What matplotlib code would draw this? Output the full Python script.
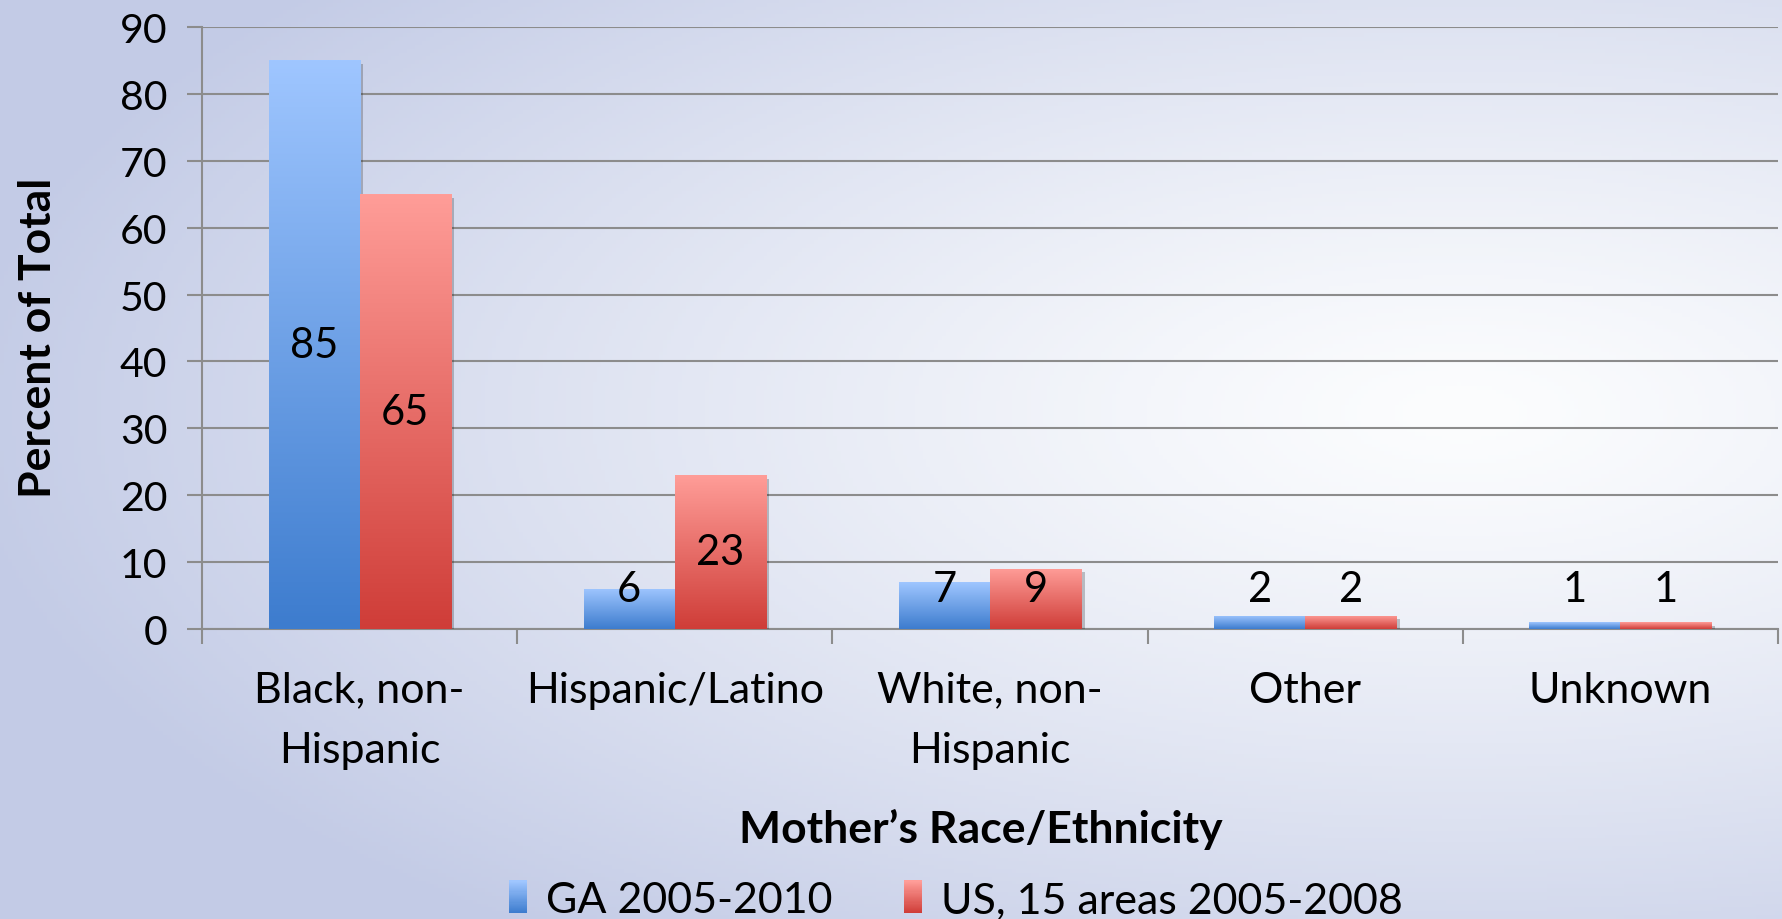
import numpy as np
import matplotlib
matplotlib.use("Agg")
import matplotlib.pyplot as plt
from matplotlib.colors import LinearSegmentedColormap, to_rgb
from matplotlib.patches import Rectangle
from matplotlib.legend_handler import HandlerBase
from matplotlib.ticker import FixedLocator
import matplotlib.patheffects as pe

# ---- data ----
categories = ["Black, non-\nHispanic", "Hispanic/Latino", "White, non-\nHispanic", "Other", "Unknown"]
ga_values = [85, 6, 7, 2, 1]
us_values = [65, 23, 9, 2, 1]
series_names = ["GA 2005-2010", "US, 15 areas 2005-2008"]
y_ticks = [0, 10, 20, 30, 40, 50, 60, 70, 80, 90]

FONT = "Lato"
BLUE = ("#3d7cce", "#9fc6ff")   # bottom, top
RED = ("#cf3d38", "#ff9d98")
GRID = "#8c8c8c"

fig = plt.figure(figsize=(17.83, 9.20), dpi=100)

# soft lavender-to-white backdrop
bg = fig.add_axes([0, 0, 1, 1], zorder=-10)
h, w = 240, 460
yy, xx = np.mgrid[0:1:h * 1j, 0:1:w * 1j]
d = np.sqrt(((xx - 0.82) / 1.0) ** 2 + ((yy - 0.45) / 0.85) ** 2)
t = np.clip(d / 0.85, 0, 1) ** 1.25
dark = np.array(to_rgb("#c3cbe6"))
light = np.array(to_rgb("#fcfdfe"))
img = light[None, None, :] * (1 - t[..., None]) + dark[None, None, :] * t[..., None]
bg.imshow(img, extent=[0, 1, 0, 1], aspect="auto", origin="upper")
bg.set_axis_off()

ax = fig.add_axes([202 / 1783, 1 - 630 / 920, 1576 / 1783, 602 / 920])
ax.patch.set_alpha(0)

x = np.arange(len(categories))
bw = 0.289


def gradient_bars(xpos, vals, cols):
    cmap = LinearSegmentedColormap.from_list("g", list(cols))
    bars = ax.bar(xpos, vals, width=bw, align="edge", color=cols[0], zorder=3,
                  path_effects=[pe.SimplePatchShadow(offset=(2.5, -2.5), shadow_rgbFace="k", alpha=0.22),
                                pe.Normal()])
    grad = np.linspace(0, 1, 256).reshape(-1, 1)
    for b in bars:
        x0, y0 = b.get_x(), b.get_y()
        im = ax.imshow(grad, extent=[x0, x0 + b.get_width(), y0, y0 + b.get_height()],
                       origin="lower", aspect="auto", cmap=cmap, zorder=4, interpolation="bilinear")
        im.set_clip_path(b)
    return bars


gradient_bars(x - bw, ga_values, BLUE)
gradient_bars(x, us_values, RED)

# value labels
for xs, vals in ((x - bw / 2, ga_values), (x + bw / 2, us_values)):
    for xi, v in zip(xs, vals):
        ax.text(xi, max(v / 2, 6), f"{v}", ha="center", va="center",
                fontsize=30, family=FONT, color="black", zorder=6)

ax.set_xlim(-0.5, len(categories) - 0.5)
ax.set_ylim(0, 90)
ax.set_yticks(y_ticks)
ax.set_yticklabels([str(v) for v in y_ticks])
ax.yaxis.grid(True, color=GRID, linewidth=1.5)
ax.set_axisbelow(True)

ax.set_xticks(x)
ax.set_xticklabels(categories, linespacing=1.72)
ax.xaxis.set_minor_locator(FixedLocator(np.arange(-0.5, len(categories), 1.0)))
ax.tick_params(axis="x", which="major", length=0, pad=30)
ax.tick_params(axis="x", which="minor", length=11, width=1.5, color=GRID, direction="out")
ax.tick_params(axis="y", length=11, width=1.5, color=GRID, pad=14)
for lab in ax.get_xticklabels():
    lab.set_fontfamily(FONT)
    lab.set_fontsize(31)
for lab in ax.get_yticklabels():
    lab.set_fontfamily(FONT)
    lab.set_fontsize(29.5)

for s in ("top", "right"):
    ax.spines[s].set_visible(False)
for s in ("left", "bottom"):
    ax.spines[s].set_color(GRID)
    ax.spines[s].set_linewidth(1.5)

ax.set_ylabel("Percent of Total", fontsize=32, fontweight="bold", family=FONT, va="center")
ax.yaxis.set_label_coords(-0.104, 0.485)
ax.set_xlabel("Mother\u2019s Race/Ethnicity", fontsize=32, fontweight="bold", family=FONT, va="center")
ax.xaxis.set_label_coords(0.494, -0.332)


class GradientHandler(HandlerBase):
    def __init__(self, cols, n=30):
        super().__init__()
        self.cols = cols
        self.n = n

    def create_artists(self, legend, orig_handle, xdescent, ydescent, width, height, fontsize, trans):
        cmap = LinearSegmentedColormap.from_list("g", list(self.cols))
        arts = []
        for i in range(self.n):
            r = Rectangle((-xdescent, -ydescent + height * i / self.n), width, height / self.n + 0.3,
                          facecolor=cmap(i / (self.n - 1)), edgecolor="none", transform=trans)
            arts.append(r)
        return arts


hb = Rectangle((0, 0), 1, 1)
hr = Rectangle((0, 0), 1, 1)
fig.legend([hb, hr], series_names, loc="center", bbox_to_anchor=(0.536, 0.021), ncol=2,
           frameon=False, prop={"family": FONT, "size": 31},
           handler_map={hb: GradientHandler(BLUE), hr: GradientHandler(RED)},
           handlelength=0.42, handleheight=0.8, handletextpad=0.45, columnspacing=1.65,
           borderpad=0, borderaxespad=0)

fig.savefig("out.png", dpi=100)
